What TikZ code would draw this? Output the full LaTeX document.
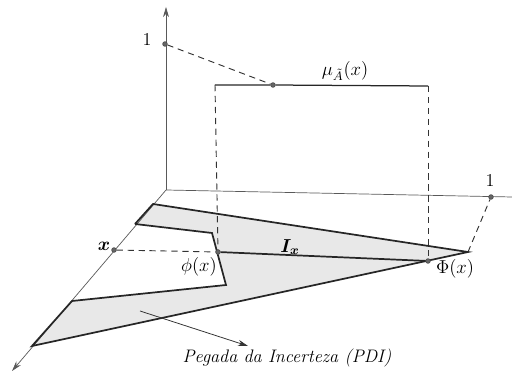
\documentclass[tikz,border=0pt]{standalone}
\usepackage{bm}
\usetikzlibrary{arrows.meta}
\begin{document}
\begin{tikzpicture}[x=0.64pt,y=-0.64pt,
  axis/.style={draw=black!65,line width=0.45pt},
  thick edge/.style={draw=black!85,line width=1.1pt},
  dsh/.style={draw=black!80,line width=0.6pt,dash pattern=on 4pt off 3pt},
  pt/.style={circle,fill=black!60,draw=black!70,inner sep=0pt,minimum size=3pt},
  lbl/.style={inner sep=1pt,font=\fontsize{11.6}{14}\selectfont},
  tip/.style={-{Stealth[length=6.5pt,width=3.8pt]}}]
\useasboundingbox (0,0) rectangle (512,375);
% key coordinates
\coordinate (O) at (166,190);
\coordinate (Ztop) at (166,7);
\coordinate (Xend) at (512,197);
\coordinate (Dend) at (12,371);
\coordinate (A) at (153,204);
\coordinate (T) at (468,252);
\coordinate (B) at (32,346);
\coordinate (H1) at (135,224);
\coordinate (H2) at (212,233);
\coordinate (H3) at (226,285);
\coordinate (H4) at (72,301);
\coordinate (TL) at (215,85);
\coordinate (TR) at (428,86);
% filled footprint
\fill[black!9] (A) -- (T) -- (B) -- (H4) -- (H3) -- (H2) -- (H1) -- cycle;
% axes
\draw[axis,tip] (O) -- (Ztop);
\draw[axis] (O) -- (Xend);
\draw[axis,tip] (O) -- (Dend);
% outline
\draw[thick edge] (H1) -- (A) -- (T) -- (B) -- (H4) -- (H3) -- (H2) -- (H1);
% points
\node[pt] (z1) at (165,44) {};
\node[pt] (x1) at (491,197) {};
\node[pt] (xp) at (114,250) {};
\node[pt] (phi) at (218,252) {};
\node[pt] (Phi) at (428,261) {};
\node[pt] (mu) at (273,85) {};
% I_x
\draw[thick edge] (phi) -- (Phi);
% membership top line and dashed verticals
\draw[draw=black!85,line width=0.8pt] (TL) -- (mu) -- (TR);
\draw[dsh] (TL) -- (phi);
\draw[dsh] (TR) -- (Phi);
\draw[dsh] (z1) -- (mu);
\draw[dsh] (xp) -- (phi);
\draw[dsh] (T) -- (x1);
% labels
\node[lbl] (l1z) at (147,39) {1};
\node[lbl] (l1x) at (490,180) {1};
\node[lbl] (lmu) at (345,71) {$\mu_{\tilde{A}}(x)$};
\node[lbl] (lxp) at (104,246) {$\bm{x}$};
\node[lbl] (lphi) at (199,267) {$\phi(x)$};
\node[lbl] (lPhi) at (455,269) {$\Phi(x)$};
\node[lbl] (lIx) at (290,247) {$\bm{I_x}$};
\node[lbl] (lpdi) at (287,358) {\itshape Pegada da Incerteza (PDI)};
\coordinate (arS) at (140,311);
\coordinate (arE) at (248,346);
\draw[draw=black!80,line width=0.5pt,tip] (arS) -- (arE);
\end{tikzpicture}
\end{document}
